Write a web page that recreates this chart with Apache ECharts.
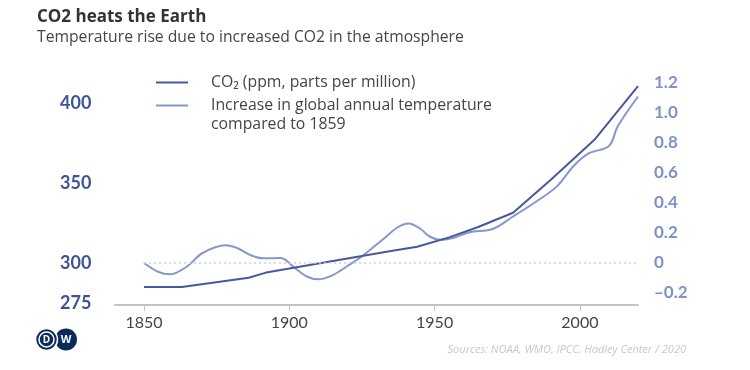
<!DOCTYPE html>
<html>
<head>
<meta charset="utf-8">
<script src="https://cdn.jsdelivr.net/npm/echarts@6/dist/echarts.min.js"></script>
<style>
html,body{margin:0;padding:0;background:#fff;}
#c{width:750px;height:370px;}
</style>
</head>
<body>
<div id="c"></div>
<script>
// ---- data ----
var co2Years = [1850, 1863, 1886, 1892, 1935, 1944, 1955, 1965, 1977, 1990, 2005, 2020];
var co2Values = [285, 285, 290.8, 294, 307.5, 310.2, 316, 322.5, 331.4, 352, 377, 410.6];

var tempYears = [1850, 1855, 1859, 1865, 1870, 1878, 1882, 1887, 1891, 1897, 1902, 1906, 1910, 1915, 1920, 1925, 1933, 1937, 1941, 1945, 1948, 1952, 1957, 1962, 1970, 1977, 1985, 1992, 1998, 2003, 2010, 2013, 2020];
var tempValues = [0.0, -0.06, -0.075, -0.02, 0.065, 0.118, 0.10, 0.05, 0.031, 0.033, -0.035, -0.09, -0.109, -0.08, -0.02, 0.045, 0.17, 0.235, 0.264, 0.23, 0.18, 0.155, 0.17, 0.205, 0.227, 0.31, 0.41, 0.509, 0.65, 0.731, 0.78, 0.91, 1.11];

var xTicks = [1850, 1900, 1950, 2000];
var leftTicks = [275, 300, 350, 400];
var rightTicks = [-0.2, 0, 0.2, 0.4, 0.6, 0.8, 1.0, 1.2];

var titleText = 'CO2 heats the Earth';
var subtitleText = 'Temperature rise due to increased CO2 in the atmosphere';
var legendCO2 = 'CO\u2082 (ppm, parts per million)';
var legendTemp1 = 'Increase in global annual temperature';
var legendTemp2 = 'compared to 1859';
var sourceText = 'Sources: NOAA, WMO, IPCC, Hadley Center / 2020';

var FONT = '"Open Sans"';
var NUMFONT = 'Lato';
var CO2_COLOR = '#47599b';
var TEMP_COLOR = '#8597cf';

function pairs(xs, ys) { return xs.map(function (x, i) { return [x, ys[i]]; }); }
function fmtRight(v) {
  if (Math.abs(v) < 1e-9) return '0';
  var s = Math.abs(v).toFixed(1);
  return v < 0 ? '\u2013' + s : s;
}

var chart = echarts.init(document.getElementById('c'), null, {renderer: 'canvas'});
chart.setOption({
  animation: false,
  backgroundColor: '#fff',
  textStyle: {fontFamily: FONT},
  grid: {left: 115, right: 112, top: 83, bottom: 65, containLabel: false},
  xAxis: {
    type: 'value', min: 1840, max: 2020,
    axisLine: {show: true, onZero: false, lineStyle: {color: '#c4c4c4', width: 2}},
    axisTick: {show: true, length: 6, lineStyle: {color: '#c4c4c4', width: 1}, customValues: xTicks},
    axisLabel: {customValues: xTicks, color: '#454545', fontSize: 16, fontFamily: NUMFONT, margin: 10,
      formatter: function (v) { return String(v); }},
    splitLine: {show: false}
  },
  yAxis: [{
    type: 'value', min: 273.75, max: 412.5, position: 'left',
    axisLine: {show: false}, axisTick: {show: false}, splitLine: {show: false},
    axisLabel: {customValues: leftTicks, color: '#3f5495', fontSize: 18, fontWeight: 'bold', fontFamily: NUMFONT, align: 'left', margin: 55}
  }, {
    type: 'value', min: -0.28, max: 1.2, position: 'right',
    axisLine: {show: false}, axisTick: {show: false}, splitLine: {show: false},
    axisLabel: {customValues: rightTicks, color: '#7f92c8', fontSize: 17, fontWeight: 'bold', fontFamily: NUMFONT, align: 'left', margin: 16,
      formatter: fmtRight}
  }],
  series: [{
    name: 'temp', type: 'line', yAxisIndex: 1, data: pairs(tempYears, tempValues),
    smooth: 0.35, showSymbol: false, lineStyle: {color: TEMP_COLOR, width: 2}, z: 2,
    markLine: {silent: true, symbol: 'none', label: {show: false},
      lineStyle: {color: '#cfcfcf', type: [2, 3], width: 1.5},
      data: [[{coord: [1850, 0]}, {coord: [2020, 0]}]]}
  }, {
    name: 'co2', type: 'line', yAxisIndex: 0, data: pairs(co2Years, co2Values),
    smooth: false, showSymbol: false, lineStyle: {color: CO2_COLOR, width: 2}, z: 3
  }],
  graphic: [
    {type: 'text', left: 37, top: 9, style: {text: titleText, font: 'bold 17px ' + FONT, fill: '#333333'}},
    {type: 'text', left: 37, top: 30, style: {text: subtitleText, font: '15.7px ' + FONT, fill: '#454545'}},
    {type: 'line', shape: {x1: 156, y1: 82.5, x2: 188, y2: 82.5}, style: {stroke: CO2_COLOR, lineWidth: 2}},
    {type: 'line', shape: {x1: 156, y1: 105.5, x2: 188, y2: 105.5}, style: {stroke: TEMP_COLOR, lineWidth: 2}},
    {type: 'text', x: 211, y: 82.5, style: {text: legendCO2, font: '15.8px ' + FONT, fill: '#454545', verticalAlign: 'middle'}},
    {type: 'text', x: 211, y: 105.5, style: {text: legendTemp1, font: '15.8px ' + FONT, fill: '#454545', verticalAlign: 'middle'}},
    {type: 'text', x: 211, y: 124, style: {text: legendTemp2, font: '15.8px ' + FONT, fill: '#454545', verticalAlign: 'middle'}},
    {type: 'text', x: 686, y: 350, style: {text: sourceText, font: 'italic 11px ' + FONT, fill: '#c8c8c8', align: 'right', verticalAlign: 'middle'}},
    {type: 'circle', shape: {cx: 66, cy: 339.5, r: 11}, style: {fill: '#0b2b5b'}},
    {type: 'text', x: 66, y: 340, style: {text: 'W', font: 'bold 11px ' + FONT, fill: '#ffffff', align: 'center', verticalAlign: 'middle'}},
    {type: 'circle', shape: {cx: 46.5, cy: 339.5, r: 11}, style: {fill: '#0b2b5b', stroke: '#ffffff', lineWidth: 1.5}},
    {type: 'circle', shape: {cx: 46.5, cy: 339.5, r: 7.5}, style: {fill: 'none', stroke: '#ffffff', lineWidth: 1.5}},
    {type: 'text', x: 46.5, y: 340, style: {text: 'D', font: 'bold 10px ' + FONT, fill: '#ffffff', align: 'center', verticalAlign: 'middle'}}
  ]
});
</script>
</body>
</html>
